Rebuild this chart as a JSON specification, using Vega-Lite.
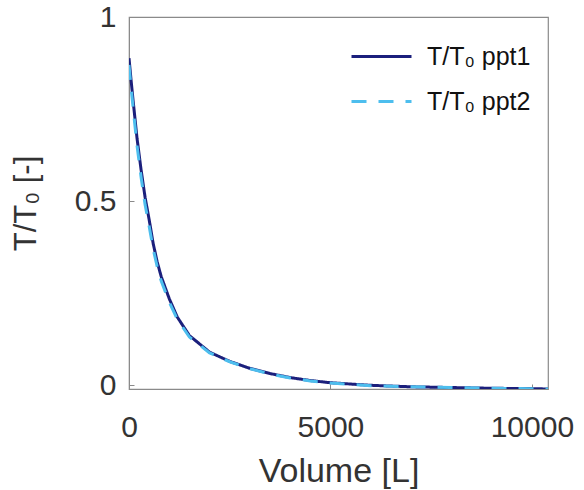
{
  "$schema": "https://vega.github.io/schema/vega-lite/v6.json",
  "width": 419,
  "height": 372,
  "autosize": {"type": "none"},
  "padding": {"left": 129, "top": 17, "right": 36, "bottom": 101},
  "background": "white",
  "config": {
    "font": "Liberation Sans",
    "view": {"stroke": "#8a8a8a", "strokeWidth": 1.2},
    "axis": {
      "domainColor": "#8a8a8a",
      "tickColor": "#8a8a8a",
      "labelColor": "#333333",
      "titleColor": "#333333",
      "labelFont": "Liberation Sans",
      "titleFont": "Liberation Sans",
      "labelFontSize": 30,
      "titleFontSize": 31,
      "titleFontWeight": "normal",
      "grid": false
    }
  },
  "data": {
    "values": [
      {"V": 0, "T": 0.888, "s": "T/T₀ ppt1"},
      {"V": 50, "T": 0.83, "s": "T/T₀ ppt1"},
      {"V": 100, "T": 0.775, "s": "T/T₀ ppt1"},
      {"V": 200, "T": 0.67, "s": "T/T₀ ppt1"},
      {"V": 300, "T": 0.585, "s": "T/T₀ ppt1"},
      {"V": 400, "T": 0.51, "s": "T/T₀ ppt1"},
      {"V": 500, "T": 0.45, "s": "T/T₀ ppt1"},
      {"V": 600, "T": 0.385, "s": "T/T₀ ppt1"},
      {"V": 700, "T": 0.335, "s": "T/T₀ ppt1"},
      {"V": 800, "T": 0.295, "s": "T/T₀ ppt1"},
      {"V": 1000, "T": 0.235, "s": "T/T₀ ppt1"},
      {"V": 1200, "T": 0.185, "s": "T/T₀ ppt1"},
      {"V": 1500, "T": 0.135, "s": "T/T₀ ppt1"},
      {"V": 2000, "T": 0.09, "s": "T/T₀ ppt1"},
      {"V": 2500, "T": 0.065, "s": "T/T₀ ppt1"},
      {"V": 3000, "T": 0.046, "s": "T/T₀ ppt1"},
      {"V": 3500, "T": 0.032, "s": "T/T₀ ppt1"},
      {"V": 4000, "T": 0.021, "s": "T/T₀ ppt1"},
      {"V": 4500, "T": 0.013, "s": "T/T₀ ppt1"},
      {"V": 5000, "T": 0.007, "s": "T/T₀ ppt1"},
      {"V": 6000, "T": 0.0, "s": "T/T₀ ppt1"},
      {"V": 7000, "T": -0.004, "s": "T/T₀ ppt1"},
      {"V": 8000, "T": -0.006, "s": "T/T₀ ppt1"},
      {"V": 9000, "T": -0.008, "s": "T/T₀ ppt1"},
      {"V": 10000, "T": -0.009, "s": "T/T₀ ppt1"},
      {"V": 10400, "T": -0.01, "s": "T/T₀ ppt1"},
      {"V": 0, "T": 0.87, "s": "T/T₀ ppt2"},
      {"V": 50, "T": 0.81, "s": "T/T₀ ppt2"},
      {"V": 100, "T": 0.755, "s": "T/T₀ ppt2"},
      {"V": 200, "T": 0.65, "s": "T/T₀ ppt2"},
      {"V": 300, "T": 0.565, "s": "T/T₀ ppt2"},
      {"V": 400, "T": 0.49, "s": "T/T₀ ppt2"},
      {"V": 500, "T": 0.432, "s": "T/T₀ ppt2"},
      {"V": 600, "T": 0.37, "s": "T/T₀ ppt2"},
      {"V": 700, "T": 0.322, "s": "T/T₀ ppt2"},
      {"V": 800, "T": 0.283, "s": "T/T₀ ppt2"},
      {"V": 1000, "T": 0.226, "s": "T/T₀ ppt2"},
      {"V": 1200, "T": 0.179, "s": "T/T₀ ppt2"},
      {"V": 1500, "T": 0.131, "s": "T/T₀ ppt2"},
      {"V": 2000, "T": 0.088, "s": "T/T₀ ppt2"},
      {"V": 2500, "T": 0.064, "s": "T/T₀ ppt2"},
      {"V": 3000, "T": 0.045, "s": "T/T₀ ppt2"},
      {"V": 3500, "T": 0.031, "s": "T/T₀ ppt2"},
      {"V": 4000, "T": 0.02, "s": "T/T₀ ppt2"},
      {"V": 4500, "T": 0.012, "s": "T/T₀ ppt2"},
      {"V": 5000, "T": 0.006, "s": "T/T₀ ppt2"},
      {"V": 6000, "T": -0.001, "s": "T/T₀ ppt2"},
      {"V": 7000, "T": -0.004, "s": "T/T₀ ppt2"},
      {"V": 8000, "T": -0.006, "s": "T/T₀ ppt2"},
      {"V": 9000, "T": -0.008, "s": "T/T₀ ppt2"},
      {"V": 10000, "T": -0.009, "s": "T/T₀ ppt2"},
      {"V": 10400, "T": -0.01, "s": "T/T₀ ppt2"}
    ]
  },
  "mark": {"type": "line", "strokeWidth": 3, "clip": true},
  "encoding": {
    "x": {
      "field": "V", "type": "quantitative",
      "scale": {"domain": [0, 10400], "nice": false, "zero": false},
      "axis": {"title": "Volume [L]", "titleFontSize": 34, "values": [0, 5000, 10000], "format": "d", "tickSize": -5, "labelPadding": 28, "titlePadding": 12, "labelFlush": false}
    },
    "y": {
      "field": "T", "type": "quantitative",
      "scale": {"domain": [-0.01, 1], "nice": false, "zero": false},
      "axis": {"title": "T/T₀ [-]", "values": [0, 0.5, 1], "format": "~g", "tickSize": -5, "labelPadding": 18, "titlePadding": 32, "labelFlush": false}
    },
    "color": {
      "field": "s", "type": "nominal",
      "scale": {"domain": ["T/T₀ ppt1", "T/T₀ ppt2"], "range": ["#1b1f7c", "#4dbeee"]},
      "legend": {
        "title": null,
        "orient": "none",
        "legendX": 221,
        "legendY": 8,
        "symbolType": "stroke",
        "symbolSize": 3600,
        "symbolStrokeWidth": 3,
        "labelFontSize": 25,
        "labelColor": "#111111",
        "labelFont": "Liberation Sans",
        "labelOffset": 14,
        "rowPadding": -25
      }
    },
    "strokeDash": {
      "field": "s", "type": "nominal",
      "scale": {"domain": ["T/T₀ ppt1", "T/T₀ ppt2"], "range": [[1, 0], [15, 12]]},
      "legend": null
    },
    "order": {"field": "s"}
  }
}
